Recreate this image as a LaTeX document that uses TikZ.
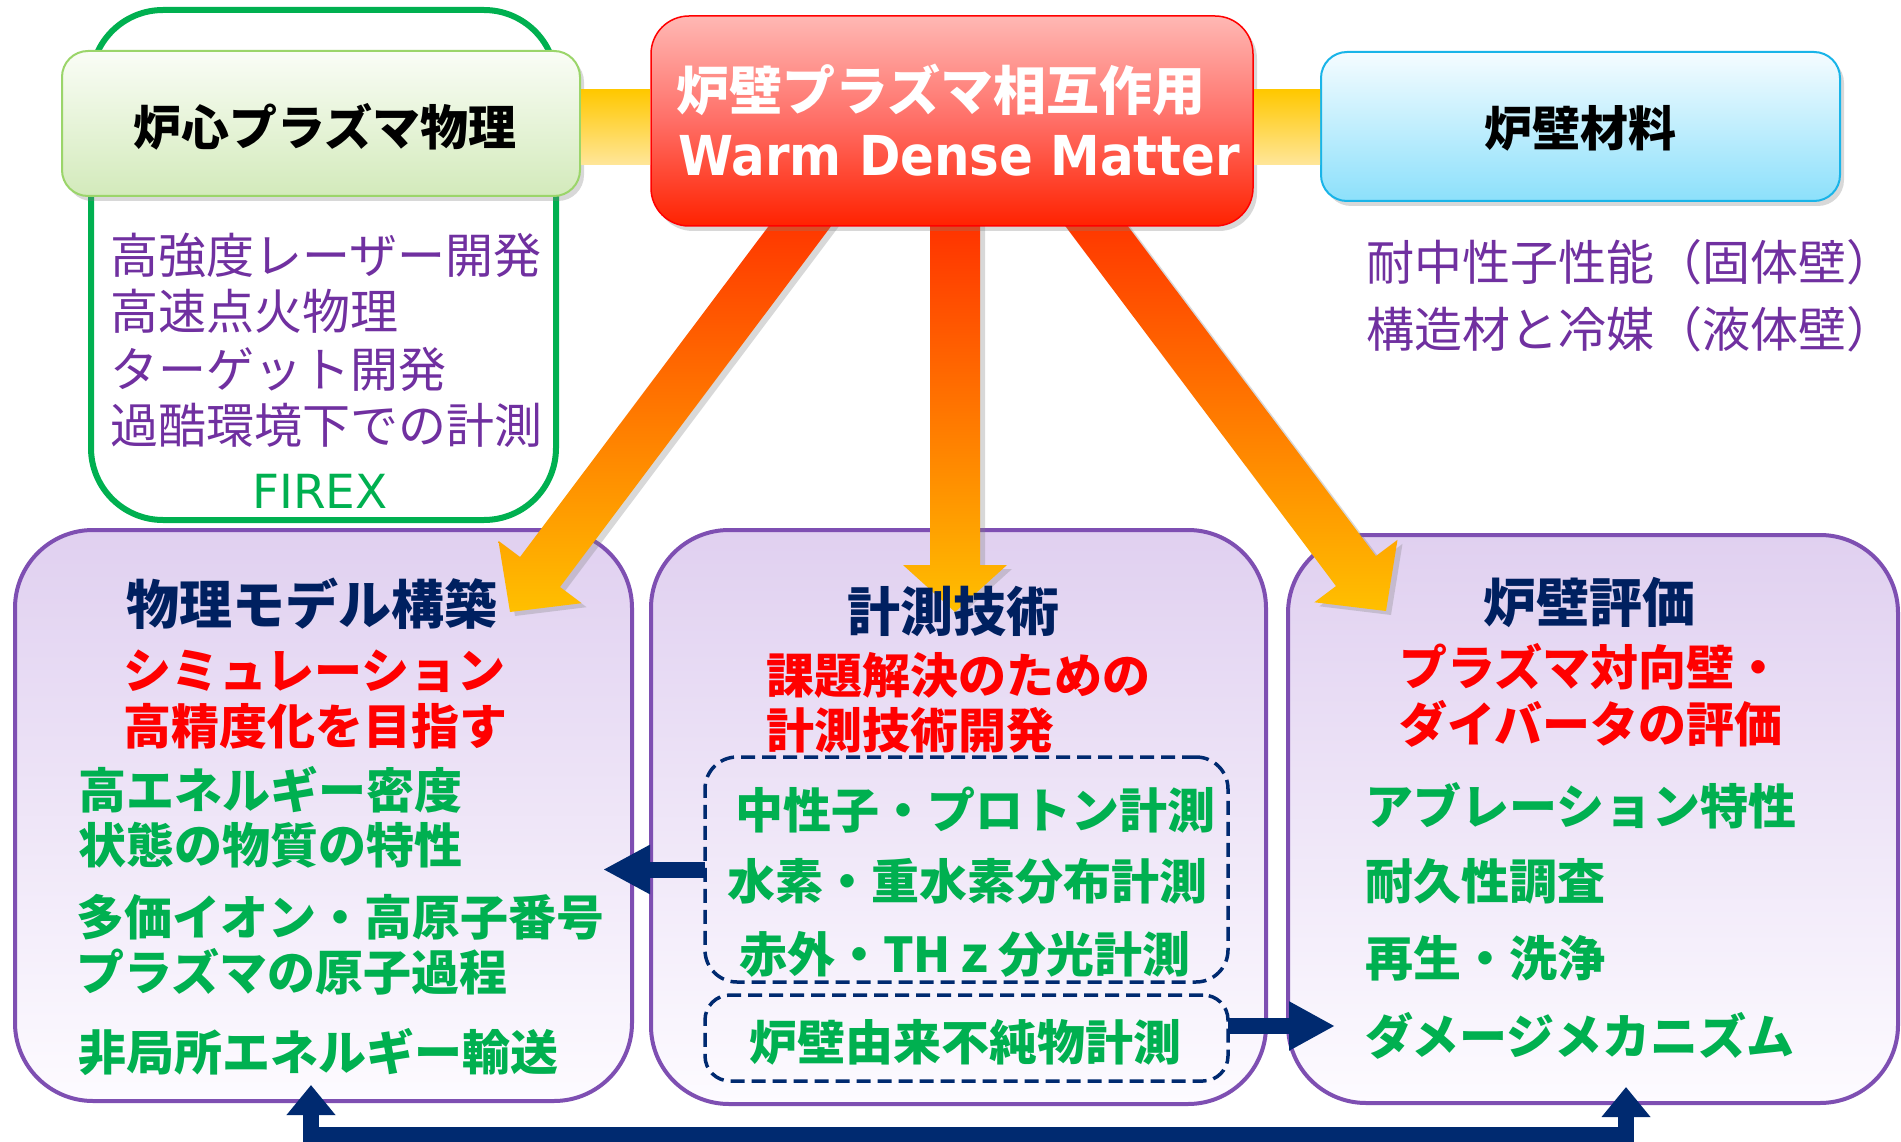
\documentclass[tikz,border=0pt]{standalone}
\usepackage{fontspec}
\usetikzlibrary{shadows,arrows.meta,calc}
\newfontfamily\jp{Noto Sans CJK JP}
\newfontfamily\wdm{DejaVu Sans}[FakeStretch=0.907]
\newfontfamily\lat{DejaVu Sans}
\definecolor{ptext}{HTML}{7030A0}
\definecolor{gtext}{HTML}{00B050}
\definecolor{rtext}{HTML}{FF0000}
\definecolor{ntext}{HTML}{002060}
\definecolor{navy}{HTML}{002A70}
\definecolor{pborder}{HTML}{7E4FB2}
\definecolor{ptop}{HTML}{E0D0F0}
\definecolor{pbot}{HTML}{FDFBFF}
\definecolor{hgtop}{HTML}{FAFDF6}
\definecolor{hgbot}{HTML}{D3EABB}
\definecolor{hgborder}{HTML}{9BD56A}
\definecolor{hbtop}{HTML}{F5FCFF}
\definecolor{hbbot}{HTML}{8CE0FB}
\definecolor{hbborder}{HTML}{19B4E8}
\definecolor{rtop}{HTML}{FFB8B4}
\definecolor{rmid}{HTML}{FF6E66}
\definecolor{rbot}{HTML}{FF2200}
\definecolor{ytop}{HTML}{FFC800}
\definecolor{ybot}{HTML}{FFE69A}
\definecolor{atop}{HTML}{FF2A00}
\definecolor{amid}{HTML}{FF7400}
\definecolor{abot}{HTML}{FFC000}
\begin{document}
\begin{tikzpicture}[x=1pt,y=-1pt,
  box/.style={rectangle, inner sep=0pt, outer sep=0pt},
  pbox/.style={box, rounded corners=78pt, draw=pborder, line width=4pt, top color=ptop, bottom color=pbot},
  hbox/.style={box, rounded corners=26pt, line width=2pt, drop shadow={shadow xshift=4pt, shadow yshift=-5pt, opacity=0.3}},
  dbox/.style={box, rounded corners=32pt, draw=navy, line width=3.5pt, dash pattern=on 14pt off 7pt},
  ybar/.style={top color=ytop, bottom color=ybot},
  bigarrow/.style={top color=atop, bottom color=abot, middle color=amid, drop shadow={shadow xshift=5pt, shadow yshift=-4pt, opacity=0.3}},
  navyline/.style={draw=navy, line width=16pt},
  jb/.style={inner sep=0pt, font=\jp\bfseries\fontsize{48}{58}\selectfont},
  jt/.style={inner sep=0pt, font=\jp\bfseries\fontsize{53}{64}\selectfont, text=ntext},
  jr/.style={inner sep=0pt, font=\jp\fontsize{48}{58}\selectfont, text=ptext},
  gb/.style={jb, text=gtext},
  rb/.style={jb, text=rtext}
]
\useasboundingbox (0,0) rectangle (1901,1142);
\fill[white] (0,0) rectangle (1901,1142);

% core plasma group outline
\node[box, minimum width=465pt, minimum height=510pt, rounded corners=72pt, draw=gtext, line width=6pt, fill=white] (coregrp) at (323.5,265) {};

% header boxes
\node[hbox, minimum width=518pt, minimum height=145pt, draw=hgborder, top color=hgtop, bottom color=hgbot] (hdrL) at (321,123.5) {};
\node[hbox, minimum width=519pt, minimum height=149pt, draw=hbborder, top color=hbtop, bottom color=hbbot] (hdrR) at (1580.5,126.5) {};

% bottom boxes
\node[pbox, minimum width=617pt, minimum height=571pt] (leftbox) at (323.5,815.5) {};
\node[pbox, minimum width=615pt, minimum height=574pt] (midbox) at (958.5,817) {};
\node[pbox, minimum width=610pt, minimum height=568pt] (rightbox) at (1593,819) {};

% dashed boxes
\node[dbox, minimum width=523pt, minimum height=225pt] (dash1) at (966.5,869.5) {};
\node[dbox, minimum width=523pt, minimum height=86pt, rounded corners=25pt] (dash2) at (966.5,1038) {};

% big gradient arrows
\shade[bigarrow] (799.5,185) -- (520,557) -- (498.4,540.8) -- (510,612) -- (581.6,603.2) -- (560,587) -- (839.5,215) -- cycle;
\shade[bigarrow] (930,200) -- (930,565) -- (903,565) -- (955,612) -- (1007,565) -- (980,565) -- (980,200) -- cycle;
\shade[bigarrow] (1096.9,185) -- (1375.9,556) -- (1397.5,539.8) -- (1386,611) -- (1314.4,602.3) -- (1336,586.1) -- (1056.9,215) -- cycle;

% red central box
\node[hbox, minimum width=602pt, minimum height=210pt, rounded corners=38pt, draw=red, line width=1.5pt, top color=rtop, bottom color=rbot, middle color=rmid] (pwi) at (952,121) {};

% yellow bars
\shade[ybar] ($(hdrL.east)+(1,-33.5)$) rectangle ($(pwi.west)+(-1,44)$);
\shade[ybar] ($(pwi.east)+(1,-31)$) rectangle ($(hdrR.west)+(-1,38.5)$);

% navy connectors
\coordinate (tipA) at (603,869.5);
\coordinate (fromB) at ($(dash2.east)+(0,-12)$);
\coordinate (tipB) at (1335,1026);
\coordinate (tipC) at (311,1085);
\coordinate (tipD) at (1626,1087);
\draw[navyline, -{Triangle[length=47pt,width=46pt]}] (dash1.west) -- (tipA);
\draw[navyline, -{Triangle[length=46pt,width=46pt]}] (fromB) -- (tipB);
\draw[navyline, line join=miter, {Triangle[length=30pt,width=47pt]}-{Triangle[length=30pt,width=47pt]}] (tipC) -- (311,1135) -- (1626,1135) -- (tipD);

% texts: top
\node[jb, text=black] (tL) at (325,127) {炉心プラズマ物理};
\node[jr, anchor=west] (l1) at (110,255) {高強度レーザー開発};
\node[jr, anchor=west] (l2) at (110,311) {高速点火物理};
\node[jr, anchor=west] (l3) at (110,369) {ターゲット開発};
\node[jr, anchor=west] (l4) at (110,425) {過酷環境下での計測};
\node[inner sep=0pt, font=\lat\fontsize{47}{56}\selectfont, text=gtext] (firex) at (320,491) {FIREX};

\node[jt, text=white, anchor=west] (c1) at (676,90) {炉壁プラズマ相互作用};
\node[inner sep=0pt, text=white, anchor=west, font=\wdm\bfseries\fontsize{55}{66}\selectfont] (c2) at (678,156) {Warm Dense Matter};

\node[jb, text=black] (tR) at (1580,128) {炉壁材料};
\node[jr, anchor=west] (r1) at (1366,262) {耐中性子性能（固体壁）};
\node[jr, anchor=west] (r2) at (1366,329) {構造材と冷媒（液体壁）};

% left box texts
\node[jt] (lt) at (312,604) {物理モデル構築};
\node[rb, anchor=west] (lr1) at (123,671) {シミュレーション};
\node[rb, anchor=west] (lr2) at (123,726) {高精度化を目指す};
\node[gb, anchor=west] (lg1) at (78,790) {高エネルギー密度};
\node[gb, anchor=west] (lg2) at (78,845) {状態の物質の特性};
\node[gb, anchor=west] (lg3) at (76,917) {多価イオン・高原子番号};
\node[gb, anchor=west] (lg4) at (76,972) {プラズマの原子過程};
\node[gb, anchor=west] (lg5) at (78,1052) {非局所エネルギー輸送};

% middle box texts
\node[jt] (mt) at (953,611) {計測技術};
\node[rb, anchor=west] (mr1) at (766,675) {課題解決のための};
\node[rb, anchor=west] (mr2) at (766,730) {計測技術開発};
\node[gb] (mg1) at (975,810) {中性子・プロトン計測};
\node[gb] (mg2) at (967,881) {水素・重水素分布計測};
\node[gb] (mg3) at (965,954) {赤外・THｚ分光計測};
\node[gb] (mg4) at (965,1042) {炉壁由来不純物計測};

% right box texts
\node[jt] (rt) at (1589,603) {炉壁評価};
\node[rb, anchor=west] (rr1) at (1399,667) {プラズマ対向壁・};
\node[rb, anchor=west] (rr2) at (1399,724) {ダイバータの評価};
\node[gb, anchor=west] (rg1) at (1365,806) {アブレーション特性};
\node[gb, anchor=west] (rg2) at (1365,881) {耐久性調査};
\node[gb, anchor=west] (rg3) at (1365,958) {再生・洗浄};
\node[gb, anchor=west] (rg4) at (1365,1036) {ダメージメカニズム};
\end{tikzpicture}
\end{document}
